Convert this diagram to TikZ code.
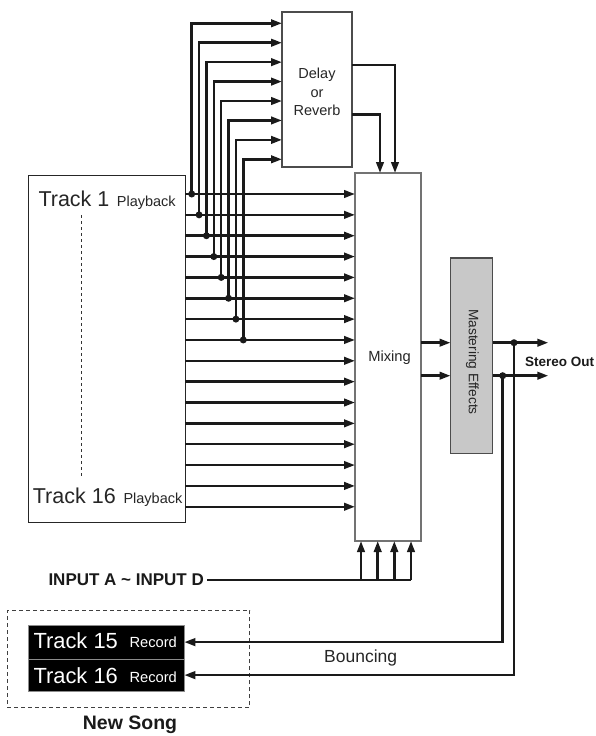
\documentclass[tikz,border=0pt]{standalone}
\usepackage{fontspec}
\setmainfont{Liberation Sans}
\usetikzlibrary{arrows.meta}
\definecolor{ink}{HTML}{1A1A1A}
\definecolor{mastgray}{HTML}{C8C8C8}
\begin{document}
\begin{tikzpicture}[x=1pt,y=-1pt,
  line/.style={line width=2.5pt, draw=ink},
  arr/.style={line, -{Triangle[length=11pt,width=7.5pt]}},
  dot/.style={circle, fill=ink, inner sep=0pt, minimum size=7pt},
  box/.style={draw=black!70, line width=1.1pt, fill=white, inner sep=0pt, outer sep=0pt, anchor=north west},
  txt/.style={inner sep=0pt, anchor=base west},
]
\useasboundingbox (0,0) rectangle (595,736);

% boxes
\node[box, draw=black!85, line width=0.9pt, minimum width=157pt, minimum height=347pt] (trk) at (28,175) {};
\node[box, minimum width=70pt, minimum height=155pt] (dly) at (282,12) {};
\node[align=center, font=\fontsize{14.5}{18.4}\selectfont, text=black!85] (dlytxt) at (317,92) {Delay\\or\\Reverb};
\node[box, draw=black!55, line width=1.3pt, minimum width=66pt, minimum height=368pt] (mix) at (355,173) {};
\node[font=\fontsize{14.7}{17}\selectfont, text=black!85] (mixtxt) at (389.5,358) {Mixing};
\node[box, fill=mastgray, minimum width=42pt, minimum height=195.5pt] (mast) at (450.5,258) {};
\node[rotate=-90, font=\fontsize{13.7}{16}\selectfont, text=black!85] (masttxt) at (472.5,362) {Mastering Effects};

% track labels
\node[txt, font=\fontsize{21.5}{24}\selectfont, text=black!85] (t1) at (38.3,206) {Track 1};
\node[txt, font=\fontsize{14.5}{17}\selectfont, text=black!85] (p1) at (116.7,206) {Playback};
\node[txt, font=\fontsize{21.5}{24}\selectfont, text=black!85] (t16) at (32.7,503.3) {Track 16};
\node[txt, font=\fontsize{14.5}{17}\selectfont, text=black!85] (p16) at (123.3,503.3) {Playback};
\coordinate (dashtop) at (81,215);
\coordinate (dashbot) at (81,476);
\draw[black!80, line width=0.9pt, dash pattern=on 3pt off 3pt] (dashtop) -- (dashbot);

% 16 playback lines into mixing
\foreach \i in {1,...,16} {
  \pgfmathsetmacro\yy{194+(\i-1)*20.85}
  \coordinate (row\i) at (0,\yy);
  \draw[arr] (trk.east |- row\i) -- (mix.west |- row\i);
}

% sends to delay/reverb
\foreach \j in {1,...,8} {
  \pgfmathsetmacro\xx{191.7+(\j-1)*7.37}
  \pgfmathsetmacro\yy{23.3+(\j-1)*19.43}
  \coordinate (din\j) at (0,\yy);
  \coordinate (tap\j) at (\xx,0);
  \draw[arr] (tap\j |- row\j) |- (dly.west |- din\j);
  \node[dot] (tapdot\j) at (tap\j |- row\j) {};
}

% delay returns
\coordinate (dout1) at (0,65);
\coordinate (dout2) at (0,114.3);
\coordinate (mtop1) at (395,0);
\coordinate (mtop2) at (380,0);
\draw[arr] (dly.east |- dout1) -| (mix.north -| mtop1);
\draw[arr] (dly.east |- dout2) -| (mix.north -| mtop2);

% mixing -> mastering -> stereo out
\coordinate (busL) at (0,342.7);
\coordinate (busR) at (0,375.7);
\draw[arr] (mix.east |- busL) -- (mast.west |- busL);
\draw[arr] (mix.east |- busR) -- (mast.west |- busR);
\coordinate (outL) at (548.3,342.7);
\coordinate (outR) at (548.3,375.7);
\draw[arr] (mast.east |- busL) -- (outL);
\draw[arr] (mast.east |- busR) -- (outR);
\node[dot] (jL) at (514,342.7) {};
\node[dot] (jR) at (502.7,375.7) {};
\node[txt, font=\bfseries\fontsize{13.5}{16}\selectfont, text=ink] (stereo) at (525,366.7) {Stereo Out};

% inputs
\node[inner sep=3pt, anchor=west, font=\bfseries\fontsize{17}{20}\selectfont, text=ink] (inp) at (45.3,580) {INPUT A \textasciitilde{} INPUT D};
\coordinate (ib1) at (361,580);
\coordinate (ib2) at (377.7,580);
\coordinate (ib3) at (394.3,580);
\coordinate (ib4) at (411,580);
\draw[line] (inp.east) -- (ib4);
\foreach \k in {1,...,4} {
  \draw[arr] (ib\k) -- (mix.south -| ib\k);
}

% new song
\node[draw=black!75, line width=1pt, dash pattern=on 4pt off 3pt, minimum width=242.6pt, minimum height=97.3pt, inner sep=0pt, anchor=north west] (newsong) at (6.7,610) {};
\node[fill=black, draw=black!45, line width=0.8pt, inner sep=0pt, minimum width=155.5pt, minimum height=34pt, anchor=north west] (rec15) at (28,624.7) {};
\node[fill=black, draw=black!45, line width=0.8pt, inner sep=0pt, minimum width=155.5pt, minimum height=32pt, anchor=north west] (rec16) at (28,658.7) {};
\node[txt, font=\fontsize{21.9}{24}\selectfont, text=white] (r15t) at (33.3,648.3) {Track 15};
\node[txt, font=\fontsize{14.7}{17}\selectfont, text=white] (r15r) at (129.3,647.7) {Record};
\node[txt, font=\fontsize{21.9}{24}\selectfont, text=white] (r16t) at (33.3,683.3) {Track 16};
\node[txt, font=\fontsize{14.7}{17}\selectfont, text=white] (r16r) at (129.3,682.7) {Record};
\node[txt, font=\bfseries\fontsize{19.5}{22}\selectfont, text=ink] (nstxt) at (82.7,729.3) {New Song};

% bouncing
\draw[arr] (jR.center) |- (rec15.east);
\draw[arr] (jL.center) |- (rec16.east);
\node[txt, font=\fontsize{17.5}{20}\selectfont, text=black!85] (bounce) at (324,662.7) {Bouncing};
\end{tikzpicture}
\end{document}
